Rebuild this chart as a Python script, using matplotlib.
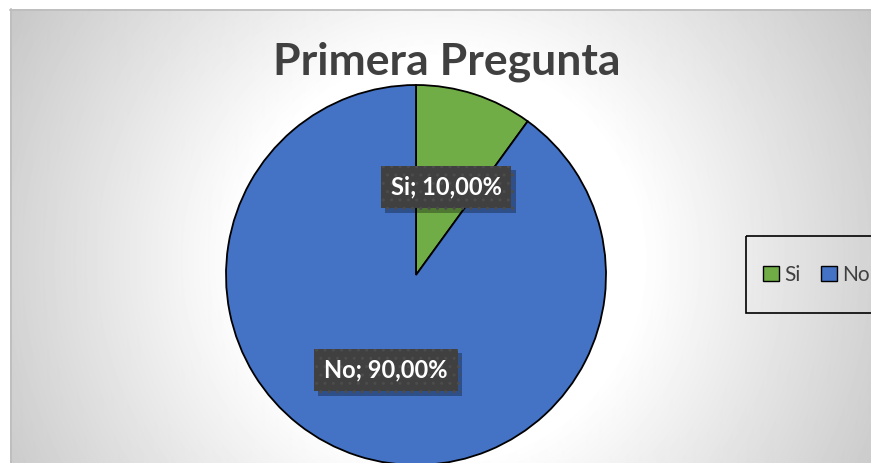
import numpy as np
import matplotlib
matplotlib.use("Agg")
import matplotlib.pyplot as plt
import matplotlib.patheffects as pe
from matplotlib.patches import Rectangle, Patch

# datos
categorias = ["Si", "No"]
valores = [10.0, 90.0]
colores = ["#70ad47", "#4472c4"]
titulo = "Primera Pregunta"

W, H = 871, 463
fig = plt.figure(figsize=(W / 100, H / 100), dpi=100)
fig.patch.set_facecolor("white")

# fondo con degradado radial (estilo Excel)
bg = fig.add_axes([0, 0, 1, 1])
bg.axis("off")
xx, yy = np.meshgrid(np.arange(10, W), np.arange(9, H))
r = np.hypot(xx - 440, yy - 260)
v = 1 - 0.22 * np.clip((r - 200) / 300, 0, 1)
bg.imshow(v, cmap="gray", vmin=0, vmax=1, extent=[10, W, H, 9],
          interpolation="bilinear", aspect="auto")
bg.plot([10, W], [9.5, 9.5], color="#bcbcbc", lw=1.2)
bg.plot([10.5, 10.5], [9, H], color="#bcbcbc", lw=1.2)
bg.set_xlim(0, W)
bg.set_ylim(H, 0)

bg.text(447, 62, titulo, ha="center", va="center", fontsize=32,
        fontweight="bold", color="#404040", family=["Lato", "DejaVu Sans"])

# pastel
cx, cy, rad = 416, 275, 190
ax = fig.add_axes([(cx - rad) / W, (H - cy - rad) / H, 2 * rad / W, 2 * rad / H])
ax.pie(valores, colors=colores, startangle=90, counterclock=False,
       wedgeprops=dict(edgecolor="black", linewidth=1.3))
ax.set_xlim(-1, 1)
ax.set_ylim(-1, 1)
ax.set_aspect("equal")
for p in ax.patches:
    p.set_clip_on(False)

pos = {"Si": (0.158, 0.463), "No": (-0.158, -0.50)}
for cat, val in zip(categorias, valores):
    x, y = pos[cat]
    txt = f"{cat}; {val:.2f}%".replace(".", ",")
    t = ax.text(x, y, txt, ha="center", va="center", fontsize=17,
                fontweight="bold", color="white", family=["Lato", "DejaVu Sans"],
                bbox=dict(boxstyle="square,pad=0.42", fc="#404040",
                          ec="#4c4c4c", lw=0, hatch=".."))
    t.get_bbox_patch().set_path_effects(
        [pe.SimplePatchShadow(offset=(3, -3), shadow_rgbFace="black", alpha=0.3),
         pe.Normal()])

# leyenda
bg.add_patch(Rectangle((746, 236), 140, 77, fill=False, ec="black", lw=1.2,
                       clip_on=False))
handles = [Patch(facecolor=c, edgecolor="black", lw=1.0) for c in colores]
fig.legend(handles, categorias, loc="center left",
           bbox_to_anchor=(763 / W, 1 - 275 / H), ncol=2, frameon=False,
           borderpad=0, borderaxespad=0,
           prop=dict(family=["Lato", "DejaVu Sans"], size=15),
           handlelength=0.75, handleheight=0.75, handletextpad=0.25,
           columnspacing=1.0, labelcolor="#404040")

fig.savefig("out.png", dpi=100)
